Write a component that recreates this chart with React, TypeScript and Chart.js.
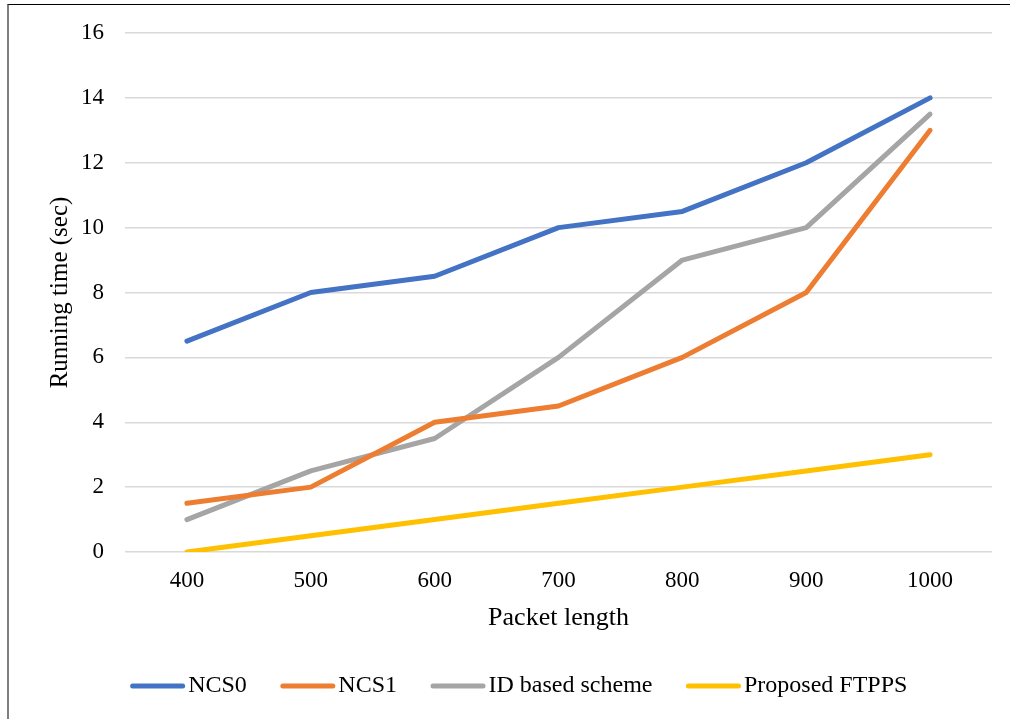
import React, { useEffect, useRef } from "react";
import { Chart, registerables } from "chart.js";

Chart.register(...registerables);

const packetLengths = ["400", "500", "600", "700", "800", "900", "1000"];
const ncs0 = [6.5, 8, 8.5, 10, 10.5, 12, 14];
const ncs1 = [1.5, 2, 4, 4.5, 6, 8, 13];
const idBased = [1, 2.5, 3.5, 6, 9, 10, 13.5];
const ftpps = [0, 0.5, 1, 1.5, 2, 2.5, 3];

const seriesNames = ["NCS0", "NCS1", "ID based scheme", "Proposed FTPPS"];
const seriesColors = ["#4472C4", "#ED7D31", "#A5A5A5", "#FFC000"];

const yTitle = "Running time (sec)";
const xTitle = "Packet length";

const FONT = "'Liberation Serif', 'Times New Roman', serif";

// Legend row drawn under the axis title: short round-capped line, small gap, label.
const lineLegend = {
  id: "lineLegend",
  afterDraw(chart: any) {
    const ctx: CanvasRenderingContext2D = chart.ctx;
    const fontSize = 24;
    const lineLen = 50;
    const textGap = 5.5;
    const itemGap = 36;
    const centerX = 511;
    const centerY = 681;
    ctx.save();
    ctx.font = `${fontSize}px ${FONT}`;
    const items = chart.data.datasets.map((ds: any) => ({
      label: ds.label as string,
      color: ds.borderColor as string,
      width: ds.borderWidth as number,
      textW: ctx.measureText(ds.label).width,
    }));
    const total =
      items.reduce((s: number, it: any) => s + lineLen + textGap + it.textW, 0) +
      itemGap * (items.length - 1);
    let x = centerX - total / 2;
    ctx.textBaseline = "middle";
    ctx.textAlign = "left";
    for (const it of items) {
      ctx.beginPath();
      ctx.strokeStyle = it.color;
      ctx.lineWidth = it.width;
      ctx.lineCap = "round";
      ctx.moveTo(x, centerY);
      ctx.lineTo(x + lineLen, centerY);
      ctx.stroke();
      x += lineLen + textGap;
      ctx.fillStyle = "#000";
      ctx.fillText(it.label, x, centerY);
      x += it.textW + itemGap;
    }
    ctx.restore();
  },
};

export default function App() {
  const canvasRef = useRef<HTMLCanvasElement | null>(null);

  useEffect(() => {
    const canvas = canvasRef.current;
    if (!canvas) return;
    const values = [ncs0, ncs1, idBased, ftpps];
    const chart = new Chart(canvas, {
      type: "line",
      data: {
        labels: packetLengths,
        datasets: values.map((data, i) => ({
          label: seriesNames[i],
          data,
          borderColor: seriesColors[i],
          backgroundColor: seriesColors[i],
          borderWidth: 5,
          borderCapStyle: "round" as const,
          borderJoinStyle: "round" as const,
          pointRadius: 0,
          pointHoverRadius: 0,
          tension: 0,
          fill: false,
        })),
      },
      plugins: [lineLegend],
      options: {
        animation: false,
        responsive: false,
        devicePixelRatio: 1,
        layout: { padding: { left: 34, right: 18, top: 28, bottom: 67 } },
        font: { family: FONT },
        plugins: {
          tooltip: { enabled: false },
          legend: { display: false },
        },
        scales: {
          x: {
            offset: true,
            grid: { display: false, drawTicks: false },
            border: { display: false },
            ticks: { color: "#000", padding: 15, font: { family: FONT, size: 23 } },
            title: {
              display: true,
              text: xTitle,
              color: "#000",
              font: { family: FONT, size: 26 },
              padding: { top: 0, bottom: 18 },
            },
            afterFit: (scale: any) => {
              scale.height = 100;
            },
          },
          y: {
            min: 0,
            max: 16,
            ticks: {
              stepSize: 2,
              color: "#000",
              padding: 21,
              font: { family: FONT, size: 23, lineHeight: 0.6 },
            },
            grid: { color: "#D9D9D9", lineWidth: 1.5, drawTicks: false },
            border: { display: false },
            title: {
              display: true,
              text: yTitle,
              color: "#000",
              font: { family: FONT, size: 25 },
              padding: { top: 2, bottom: 0 },
            },
            afterFit: (scale: any) => {
              scale.width = 82;
            },
          },
        },
      },
    });
    return () => chart.destroy();
  }, []);

  return (
    <div
      style={{
        position: "absolute",
        left: 7,
        top: 4,
        width: 1001,
        height: 714,
        borderTop: "1px solid #000",
        borderLeft: "2px solid #7f7f7f",
        background: "#fff",
      }}
    >
      <canvas ref={canvasRef} width={1001} height={714} style={{ display: "block" }} />
    </div>
  );
}
